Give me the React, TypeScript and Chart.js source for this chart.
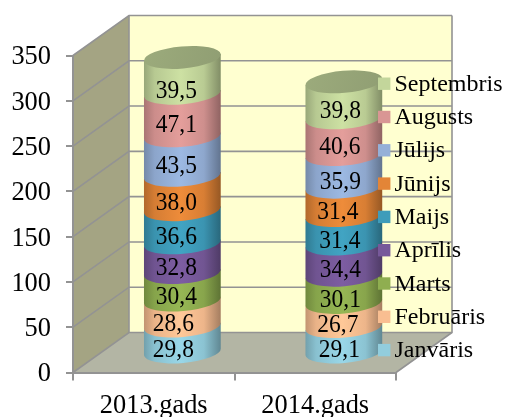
import React, { useEffect, useRef } from "react";
import { Chart, registerables } from "chart.js";

Chart.register(...registerables);

const years = ["2013.gads", "2014.gads"];
const months = ["Janvāris", "Februāris", "Marts", "Aprīlis", "Maijs", "Jūnijs", "Jūlijs", "Augusts", "Septembris"];
const values2013 = [29.8, 28.6, 30.4, 32.8, 36.6, 38.0, 43.5, 47.1, 39.5];
const values2014 = [29.1, 26.7, 30.1, 34.4, 31.4, 31.4, 35.9, 40.6, 39.8];
const colors = ["#92CDDD", "#F9BE91", "#8FAE50", "#77599A", "#3E9CBA", "#E38537", "#95B0D8", "#D99694", "#C3D69B"];

const FONT = '"Liberation Serif", "Times New Roman", serif';
const LEGEND_FONT_SIZE = 24;
const LABEL_FONT_SIZE = 25.5;
const LABEL_STRETCH = 0.92;
const AXIS_FONT_SIZE = 26.4;
const GRID = "#939393";
const DEPTH_X = 56;
const DEPTH_Y = 40;
const TILT = (-5 * Math.PI) / 180;
const RY = 11;
const LEGEND_TOP = 84.5;
const LEGEND_STEP = 33.3;
const LABEL_DX = [[-9, -9, -6, -6, -6, -6, -6, -6, -6], [-4.5, -6, -3.5, -3.5, -4, -6, -3.5, -4, -3.5]];
const LABEL_DY = [[11, 11, 11, 11, 11, 11, 11, 11, 15.5], [11, 11, 11, 11, 11, 11, 11, 11, 11]];

function shade(hex: string, k: number) {
  const n = parseInt(hex.slice(1), 16);
  const c = [(n >> 16) & 255, (n >> 8) & 255, n & 255].map((v) => Math.min(255, Math.round(v * k)));
  return `rgb(${c[0]},${c[1]},${c[2]})`;
}

const roomPlugin = {
  id: "room",
  beforeDraw(chart: any) {
    const { ctx, chartArea: a, scales } = chart;
    const L = a.left, R = a.right, T = a.top, B = a.bottom;
    const poly = (pts: number[][], fill: string) => {
      ctx.beginPath();
      pts.forEach((p, i) => (i ? ctx.lineTo(p[0], p[1]) : ctx.moveTo(p[0], p[1])));
      ctx.closePath();
      ctx.fillStyle = fill;
      ctx.fill();
    };
    ctx.save();
    poly([[L, T], [L + DEPTH_X, T - DEPTH_Y], [L + DEPTH_X, B - DEPTH_Y], [L, B]], "#A4A483");
    poly([[L + DEPTH_X, T - DEPTH_Y], [R + DEPTH_X, T - DEPTH_Y], [R + DEPTH_X, B - DEPTH_Y], [L + DEPTH_X, B - DEPTH_Y]], "#FFFFD0");
    poly([[L, B], [R, B], [R + DEPTH_X, B - DEPTH_Y], [L + DEPTH_X, B - DEPTH_Y]], "#B3B5A4");
    ctx.strokeStyle = GRID;
    ctx.lineWidth = 1.6;
    ctx.lineJoin = "miter";
    scales.y.ticks.forEach((t: any) => {
      const y = scales.y.getPixelForValue(t.value);
      ctx.beginPath();
      ctx.moveTo(L, y);
      ctx.lineTo(L + DEPTH_X, y - DEPTH_Y);
      ctx.lineTo(R + DEPTH_X, y - DEPTH_Y);
      ctx.stroke();
    });
    ctx.beginPath();
    ctx.moveTo(L + DEPTH_X, T - DEPTH_Y);
    ctx.lineTo(L + DEPTH_X, B - DEPTH_Y);
    ctx.moveTo(R + DEPTH_X, T - DEPTH_Y);
    ctx.lineTo(R + DEPTH_X, B - DEPTH_Y);
    ctx.lineTo(R, B);
    ctx.stroke();
    ctx.restore();
  },
};

const cylinderPlugin = {
  id: "cylinders",
  beforeDatasetsDraw(chart: any) {
    const { ctx, data } = chart;
    const ox = DEPTH_X / 2 + 0.6, oy = -DEPTH_Y / 2 + 0.5;
    ctx.save();
    const metas = data.datasets.map((_: any, i: number) => chart.getDatasetMeta(i));
    for (let c = 0; c < data.labels.length; c++) {
      metas.forEach((meta: any, s: number) => {
        const el = meta.data[c];
        const cx = el.x + ox;
        const rx = el.width / 2;
        const top = el.y + oy;
        const bot = el.base + oy;
        const dx = rx * Math.cos(TILT), dy = rx * Math.sin(TILT);
        const color = data.datasets[s].backgroundColor;
        const g = ctx.createLinearGradient(cx - rx, 0, cx + rx, 0);
        g.addColorStop(0, shade(color, 0.78));
        g.addColorStop(0.14, shade(color, 0.94));
        g.addColorStop(0.48, shade(color, 1.05));
        g.addColorStop(0.78, shade(color, 0.95));
        g.addColorStop(1, shade(color, 0.66));
        ctx.beginPath();
        ctx.moveTo(cx + dx, top + dy);
        ctx.lineTo(cx + dx, bot + dy);
        ctx.ellipse(cx, bot, rx, RY, TILT, 0, Math.PI, false);
        ctx.lineTo(cx - dx, top - dy);
        ctx.closePath();
        ctx.fillStyle = g;
        ctx.fill();
        if (s === metas.length - 1) {
          const lid = ctx.createLinearGradient(cx - rx, top - RY, cx + rx, top + RY);
          lid.addColorStop(0, shade(color, 0.8));
          lid.addColorStop(1, shade(color, 0.74));
          ctx.beginPath();
          ctx.ellipse(cx, top, rx, RY, TILT, 0, Math.PI * 2);
          ctx.fillStyle = lid;
          ctx.fill();
        }
      });
    }
    ctx.fillStyle = "#000";
    ctx.font = `${LABEL_FONT_SIZE}px ${FONT}`;
    ctx.textAlign = "center";
    ctx.textBaseline = "middle";
    metas.forEach((meta: any, s: number) => {
      meta.data.forEach((el: any, c: number) => {
        const v = data.datasets[s].data[c];
        const x = el.x + ox + LABEL_DX[c][s];
        const y = (el.y + el.base) / 2 + oy + LABEL_DY[c][s];
        ctx.save();
        ctx.translate(x, y);
        ctx.scale(LABEL_STRETCH, 1);
        ctx.fillText(v.toFixed(1).replace(".", ","), 0, 0);
        ctx.restore();
      });
    });
    // legend, last series on top
    ctx.font = `${LEGEND_FONT_SIZE}px ${FONT}`;
    const n = data.datasets.length;
    data.datasets.forEach((d: any, s: number) => {
      const y = LEGEND_TOP + (n - 1 - s) * LEGEND_STEP;
      ctx.fillStyle = d.backgroundColor;
      ctx.fillRect(378, y - 7, 12.4, 12.4);
      ctx.fillStyle = "#000";
      ctx.textAlign = "left";
      ctx.fillText(d.label, 394.5, y);
    });
    ctx.restore();
    return false;
  },
};

export default function App() {
  const ref = useRef<HTMLCanvasElement>(null);
  useEffect(() => {
    document.body.style.margin = "0";
    const chart = new Chart(ref.current as HTMLCanvasElement, {
      type: "bar",
      data: {
        labels: years,
        datasets: months.map((m, i) => ({
          label: m,
          data: [values2013[i], values2014[i]],
          backgroundColor: colors[i],
          stack: "total",
        })),
      },
      options: {
        responsive: false,
        animation: false,
        events: [],
        barPercentage: 0.477,
        categoryPercentage: 1,
        layout: { padding: { top: 55.5, right: 109, left: 0, bottom: 0 } },
        plugins: { legend: { display: false }, tooltip: { enabled: false } },
        scales: {
          x: {
            stacked: true,
            offset: true,
            grid: { offset: true, drawOnChartArea: false, color: GRID, lineWidth: 2, tickLength: 8 },
            border: { color: GRID, width: 2 },
            ticks: { color: "#000", font: { family: FONT, size: AXIS_FONT_SIZE }, padding: 10, maxRotation: 0 },
            afterFit: (s: any) => { s.height = 44.5; },
          },
          y: {
            stacked: true,
            min: 0,
            max: 350,
            grid: { drawOnChartArea: false, color: GRID, lineWidth: 2, tickLength: 7 },
            border: { color: GRID, width: 2 },
            ticks: { stepSize: 50, color: "#000", font: { family: FONT, size: AXIS_FONT_SIZE }, padding: 15, labelOffset: 2 },
            afterFit: (s: any) => { s.width = 73; },
          },
        },
      },
      plugins: [roomPlugin, cylinderPlugin],
    } as any);
    return () => chart.destroy();
  }, []);
  return <canvas ref={ref} width={505} height={417} style={{ display: "block" }} />;
}
